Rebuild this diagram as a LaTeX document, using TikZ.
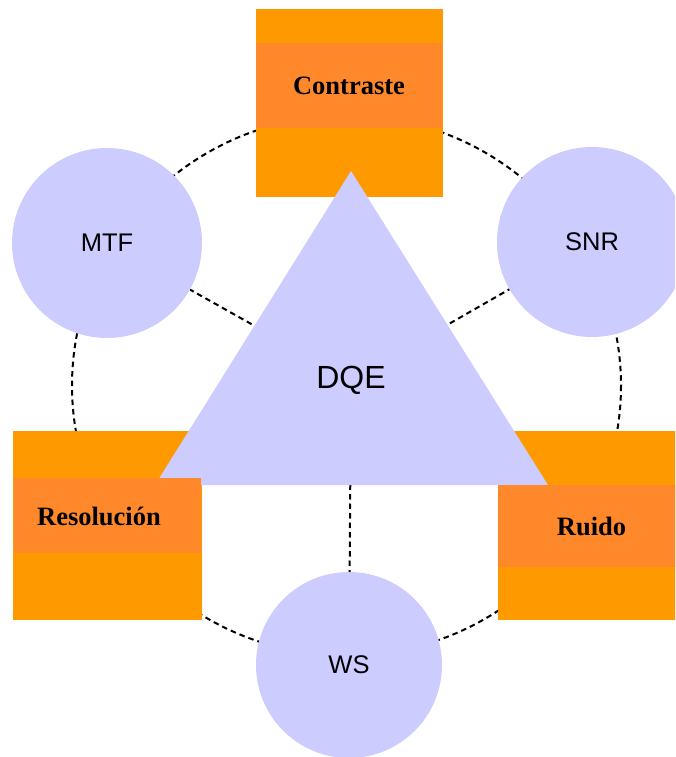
\documentclass[tikz,border=0pt]{standalone}
\usepackage{fontspec}
\setmainfont{Liberation Serif}
\setsansfont{Liberation Sans}
\pgfdeclarelayer{bg}
\pgfsetlayers{bg,main}
\definecolor{outerorange}{HTML}{FF9900}
\definecolor{bandorange}{HTML}{FF882A}
\definecolor{lilac}{HTML}{CCCCFF}
\begin{document}
\begin{tikzpicture}[x=1pt,y=-1pt,
  outerbox/.style={rectangle,fill=outerorange,draw=none,inner sep=0pt,minimum width=189pt,minimum height=189pt},
  bandbox/.style={rectangle,fill=bandorange,draw=none,inner sep=0pt,minimum width=188pt},
  boxlabel/.style={font=\rmfamily\bfseries\fontsize{26.5}{30}\selectfont,inner sep=0pt},
  param/.style={circle,fill=lilac,draw=none,minimum size=190pt,inner sep=0pt,font=\sffamily\fontsize{25.5}{29}\selectfont},
  spoke/.style={draw=black,line width=2pt,dash pattern=on 5.5pt off 4pt}]
\useasboundingbox (0,0) rectangle (675,757);
\begin{scope}
\clip (0,0) rectangle (675,757);
% outer boxes
\node[outerbox,minimum width=187pt,minimum height=188pt] (contraste) at (349.5,103) {};
\node[outerbox] (resolucion) at (107.5,525.5) {};
\node[outerbox] (ruido) at (592,525.5) {};
% triangle
\fill[lilac] (351,171) -- (155,485) -- (548,485) -- cycle;
\node[font=\sffamily\fontsize{32}{36}\selectfont,inner sep=0pt] (dqe) at (351,380) {DQE};
% bands
\node[bandbox,minimum width=186pt,minimum height=85pt] (contrasteband) at (349,85.5) {};
\node[bandbox,minimum width=187pt,minimum height=75pt] (resolucionband) at (107.5,515.5) {};
\node[bandbox,minimum height=82pt] (ruidoband) at (592,526) {};
\node[boxlabel] (contrastetxt) at (349,86) {Contraste};
\node[boxlabel] (resoluciontxt) at (99,516) {Resolución};
\node[boxlabel] (ruidotxt) at (591.5,526) {Ruido};
% circles
\node[param] (mtf) at (107,243) {MTF};
\node[param] (snr) at (592,242) {SNR};
\node[param,minimum size=186pt] (ws) at (349,665) {WS};
\begin{pgfonlayer}{bg}
\draw[spoke] (346.5,385.6) ellipse [x radius=274.5, y radius=270];
\draw[spoke] (dqe.center) -- (mtf);
\draw[spoke] (dqe.center) -- (snr);
\draw[spoke] (dqe.center) -- (ws);
\end{pgfonlayer}
\end{scope}
\end{tikzpicture}
\end{document}
